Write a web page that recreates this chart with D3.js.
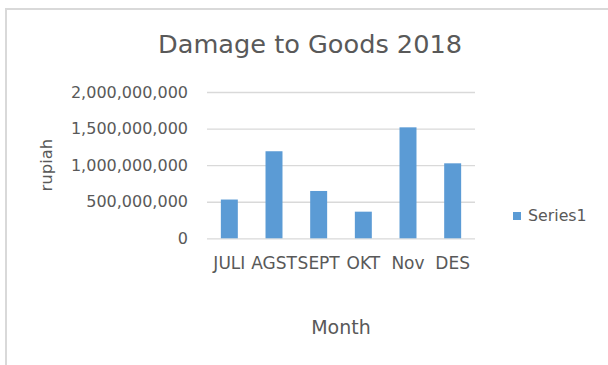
<!DOCTYPE html>
<html>
<head>
<meta charset="utf-8">
<script src="https://cdn.jsdelivr.net/npm/d3@7"></script>
<style>
  body { margin: 0; background: #fff; }
  text { font-family: "DejaVu Sans", sans-serif; fill: #595959; }
</style>
</head>
<body>
<script>
const months = ['JULI', 'AGST', 'SEPT', 'OKT', 'Nov', 'DES'];
const values = [530000000, 1190000000, 647000000, 364000000, 1517000000, 1025000000];
const yTicks = [0, 500000000, 1000000000, 1500000000, 2000000000];
const seriesName = 'Series1';

const width = 608;
const height = 365;
const plotLeft = 207, plotRight = 475, plotTop = 92, plotBottom = 238.3;
const barColor = '#5B9BD5';

const svg = d3.select('body')
  .append('svg')
  .attr('width', width)
  .attr('height', height);

// chart frame (only top & left edges visible)
svg.append('path')
  .attr('d', 'M6,' + height + ' V9 H' + width)
  .attr('fill', 'none')
  .attr('stroke', '#d9d9d9')
  .attr('stroke-width', 2);

const x = d3.scaleBand()
  .domain(months)
  .range([plotLeft, plotRight])
  .paddingInner(0.62)
  .paddingOuter(0.31);

const y = d3.scaleLinear()
  .domain([0, 2000000000])
  .range([plotBottom, plotTop]);

// gridlines + y tick labels
const yAxis = d3.axisLeft(y)
  .tickValues(yTicks)
  .tickSize(-(plotRight - plotLeft))
  .tickPadding(19)
  .tickFormat(d3.format(','));

const gy = svg.append('g')
  .attr('transform', 'translate(' + plotLeft + ',0)')
  .call(yAxis);
gy.select('.domain').remove();
gy.selectAll('line').attr('stroke', '#d9d9d9').attr('stroke-width', 1.3);
gy.selectAll('text')
  .style('font-size', '16px')
  .style('font-family', '"DejaVu Sans", sans-serif')
  .attr('fill', '#595959');

// bars
svg.selectAll('rect.bar')
  .data(values)
  .enter()
  .append('rect')
  .attr('class', 'bar')
  .attr('x', (d, i) => x(months[i]))
  .attr('y', (d) => y(d))
  .attr('width', x.bandwidth())
  .attr('height', (d) => y(0) - y(d))
  .attr('fill', barColor);

// x labels
const xAxis = d3.axisBottom(x).tickSize(0).tickPadding(19);
const gx = svg.append('g')
  .attr('transform', 'translate(0,' + plotBottom + ')')
  .call(xAxis);
gx.select('.domain').remove();
gx.selectAll('text')
  .style('font-size', '17px')
  .style('font-family', '"DejaVu Sans", sans-serif')
  .attr('fill', '#595959');

// title
svg.append('text')
  .attr('x', 310)
  .attr('y', 53)
  .attr('text-anchor', 'middle')
  .style('font-size', '25.6px')
  .text('Damage to Goods 2018');

// axis titles
svg.append('text')
  .attr('transform', 'translate(52,' + ((plotTop + plotBottom) / 2) + ') rotate(-90)')
  .attr('text-anchor', 'middle')
  .style('font-size', '16.5px')
  .text('rupiah');

svg.append('text')
  .attr('x', (plotLeft + plotRight) / 2)
  .attr('y', 334)
  .attr('text-anchor', 'middle')
  .style('font-size', '19px')
  .text('Month');

// legend
svg.append('rect')
  .attr('x', 513)
  .attr('y', 212)
  .attr('width', 8)
  .attr('height', 8)
  .attr('fill', barColor);

svg.append('text')
  .attr('x', 528)
  .attr('y', 221)
  .style('font-size', '15.8px')
  .text(seriesName);
</script>
</body>
</html>
